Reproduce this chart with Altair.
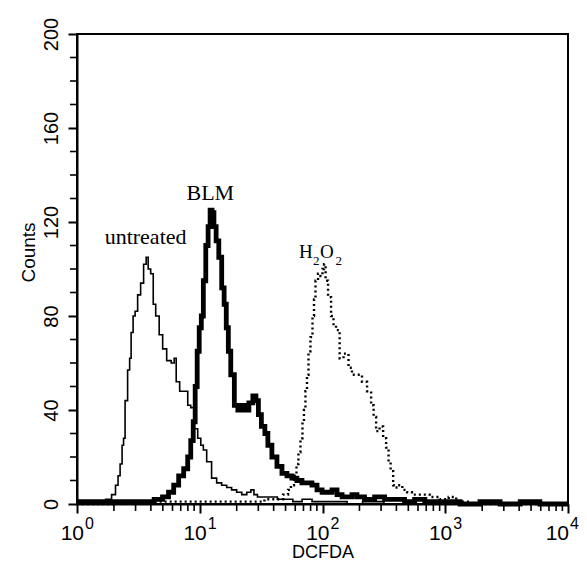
import altair as alt
import pandas as pd

# ---- data (DCFDA fluorescence histograms) ----
untreated_x = [1.0, 1.2, 1.4, 1.6, 1.83, 2.0, 2.12, 2.2, 2.29, 2.37, 2.42, 2.51, 2.66, 2.71, 2.81,
               2.92, 3.03, 3.21, 3.39, 3.59, 3.73, 3.87, 4.10, 4.26, 4.5, 4.85, 5.13, 5.64, 6.08,
               6.31, 6.55, 7.19, 7.76, 8.21, 8.68, 9.36, 9.9, 10.5, 10.9, 11.9, 13.1, 14.4, 15.8,
               17.4, 19.0, 21.0, 23.0, 25.4, 26.8, 28.5, 30.6, 34.9, 40, 46, 53, 62, 75, 90, 110,
               140, 180, 250, 400, 10000]
untreated_y = [0, 1, 0, 1, 2, 4, 8, 12, 17, 25, 28, 44, 57, 62, 73,
               80, 82, 89, 94, 102, 105, 100, 98, 85, 80, 72, 66, 61, 60,
               62, 52, 48, 48, 42, 41, 32, 28, 25, 23, 18, 11, 9, 8,
               7, 6, 5, 4, 5, 6, 4, 3, 3, 3, 2, 2, 1, 2, 1, 1,
               1, 0, 1, 0, 0]

blm_x = [1.0, 1.5, 2.5, 3.87, 4.67, 5.3, 5.85, 6.43, 7.05, 7.76, 8.2, 8.7, 9.0, 9.36, 9.7, 10.1,
         10.5, 10.9, 11.5, 11.9, 12.4, 12.8, 13.3, 13.9, 14.7, 15.5, 16.1, 16.8, 17.4, 18.4,
         19.9, 21.0, 22.6, 24.0, 26.3, 27.9, 29.5, 30.6, 33.0, 34.9, 36.9, 40.6, 44.6, 49.0,
         53.8, 58.9, 64.9, 71.3, 78.3, 86.0, 94.6, 104, 114, 125, 138, 151, 166, 182, 200,
         242, 292, 352, 425, 511, 620, 750, 900, 1090, 1600, 2300, 3400, 4900, 7100, 10000]
blm_y = [1, 1, 1, 1, 2, 3, 5, 8, 12, 15, 20, 27, 35, 50, 65, 75,
         80, 95, 110, 118, 125, 124, 118, 112, 105, 92, 85, 75, 65, 55,
         42, 40, 42, 40, 43, 46, 44, 38, 33, 30, 25, 20, 16, 13,
         12, 11, 10, 9, 9, 8, 6, 5, 5, 6, 4, 3, 3, 4, 3,
         2, 3, 2, 2, 1, 2, 1, 1, 1, 0, 1, 0, 1, 0, 0]

h2o2_x = [1.0, 4.0, 9.9, 25.4, 44.6, 51, 53.8, 56.9, 60.3, 62.5, 64.9, 67.4, 70, 71.3, 74, 75.5,
          78.3, 81.3, 84.5, 86.1, 89.3, 94.6, 98, 102, 104, 108, 114, 121, 125, 133, 143, 154,
          160, 166, 182, 200, 220, 242, 256, 266, 281, 303, 321, 339, 352, 366, 387, 400, 425,
          470, 511, 560, 680, 820, 990, 1150, 1310, 1910, 10000]
h2o2_y = [0, 1, 1, 1, 2, 4, 6, 8, 12, 17, 22, 28, 35, 40, 48, 55,
          65, 71, 80, 87, 95, 98, 97, 100, 102, 95, 88, 80, 76, 74, 62, 64,
          64, 58, 55, 55, 52, 48, 42, 37, 31, 33, 28, 24, 18, 14, 8, 7, 8,
          6, 5, 4, 4, 3, 2, 3, 1, 0, 0]

y_major = [0, 40, 80, 120, 160, 200]
y_minor = [v for v in range(10, 200, 10) if v % 40 != 0]
x_major = [1, 10, 100, 1000, 10000]
x_exponents = ["0", "1", "2", "3", "4"]
x_minor = [m * 10 ** k for k in range(4) for m in range(2, 10)]

labels_text = ["untreated", "BLM"]
labels_x = [3.62, 12.2]
labels_y = [110.6, 129.4]
h2o2_parts = ["H", "O"]
h2o2_parts_x = [64.5, 95.4]
h2o2_subs_x = [83.7, 127.5]

SANS = "Liberation Sans"
SERIF = "Liberation Serif"

lines = pd.concat([
    pd.DataFrame({"x": untreated_x, "y": untreated_y, "s": "untreated"}),
    pd.DataFrame({"x": blm_x, "y": blm_y, "s": "BLM"}),
    pd.DataFrame({"x": h2o2_x, "y": h2o2_y, "s": "H2O2"}),
])

xscale = alt.Scale(type="log", domain=[1, 10000], nice=False)
yscale = alt.Scale(domain=[0, 200], nice=False, zero=False)

xaxis = alt.Axis(values=x_major, labels=False, tickSize=9, tickWidth=2, tickColor="black",
                 domainColor="black", domainWidth=2, grid=False, title="DCFDA",
                 titleFont=SANS, titleFontSize=18, titleFontWeight="normal", titleColor="black",
                 titleY=53, titleBaseline="alphabetic")
yaxis = alt.Axis(values=y_major, tickSize=9, tickWidth=2, tickColor="black",
                 domainColor="black", domainWidth=2, grid=False,
                 labelFont=SANS, labelFontSize=20, labelColor="black", labelAngle=270,
                 labelAlign="center", labelBaseline="bottom", labelPadding=7,
                 title="Counts", titleFont=SANS, titleFontSize=19, titleFontWeight="normal",
                 titleColor="black", titleAngle=270, titleX=-43, titleY=218,
                 titleAlign="center", titleBaseline="alphabetic")

def series_chart(name, width, dash=None):
    mk = dict(color="black", strokeWidth=width, interpolate="step")
    if dash:
        mk["strokeDash"] = dash
    return alt.Chart(lines).transform_filter(alt.datum.s == name).mark_line(**mk).encode(
        x=alt.X("x:Q", scale=xscale, axis=xaxis),
        y=alt.Y("y:Q", scale=yscale, axis=yaxis),
    )

c_un = series_chart("untreated", 1.6)
c_blm = series_chart("BLM", 4.8)
c_h2 = series_chart("H2O2", 2.4, [2, 3])

xminor = alt.Chart(pd.DataFrame({"x": x_minor})).mark_rule(color="black", strokeWidth=1.6).encode(
    x=alt.X("x:Q", scale=xscale), y=alt.value(470), y2=alt.value(477))
yminor = alt.Chart(pd.DataFrame({"y": y_minor})).mark_rule(color="black", strokeWidth=1.6).encode(
    y=alt.Y("y:Q", scale=yscale), x=alt.value(-7), x2=alt.value(0))

xlab_df = pd.DataFrame({"x": x_major, "e": x_exponents})
inner = alt.datum.x < 5000
last = alt.datum.x >= 5000

def tick_labels(cond, dx10, dxe):
    t10 = alt.Chart(xlab_df).transform_filter(cond).mark_text(
        font=SANS, fontSize=21, align="right", dx=dx10, baseline="alphabetic", color="black").encode(
        x=alt.X("x:Q", scale=xscale), y=alt.value(506), text=alt.value("10"))
    te = alt.Chart(xlab_df).transform_filter(cond).mark_text(
        font=SANS, fontSize=16, align="left", dx=dxe, baseline="alphabetic", color="black").encode(
        x=alt.X("x:Q", scale=xscale), y=alt.value(495), text="e:N")
    return [t10, te]

ann = alt.Chart(pd.DataFrame({"x": labels_x, "y": labels_y, "t": labels_text})).mark_text(
    font=SERIF, fontSize=22, align="center", baseline="alphabetic", color="black").encode(
    x=alt.X("x:Q", scale=xscale), y=alt.Y("y:Q", scale=yscale), text="t:N")
h2_main = alt.Chart(pd.DataFrame({"x": h2o2_parts_x, "y": [104.7, 104.7], "t": h2o2_parts})).mark_text(
    font=SERIF, fontSize=19, align="left", baseline="alphabetic", color="black").encode(
    x=alt.X("x:Q", scale=xscale), y=alt.Y("y:Q", scale=yscale), text="t:N")
h2_sub = alt.Chart(pd.DataFrame({"x": h2o2_subs_x, "y": [101.7, 101.7], "t": ["2", "2"]})).mark_text(
    font=SERIF, fontSize=13, align="left", baseline="alphabetic", color="black").encode(
    x=alt.X("x:Q", scale=xscale), y=alt.Y("y:Q", scale=yscale), text="t:N")

layers = [c_un, c_blm, c_h2, xminor, yminor] + tick_labels(inner, 7, 8) + tick_labels(last, 1, 2) + [ann, h2_main, h2_sub]

chart = alt.layer(*layers).properties(
    width=491, height=470,
    autosize=alt.AutoSizeParams(type="none"),
    padding={"left": 69, "top": 26, "right": 11, "bottom": 57},
    background="white",
).configure_view(stroke="black", strokeWidth=2)

chart.save("out.html", embed_options={"renderer": "svg", "actions": False})
